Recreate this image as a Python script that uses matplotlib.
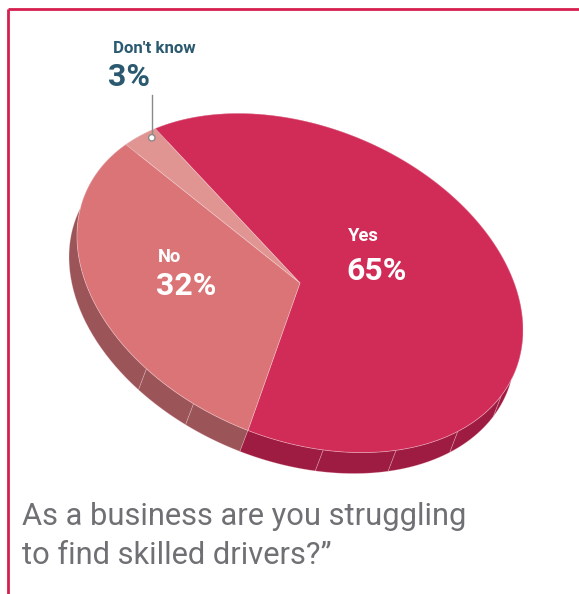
import numpy as np
import matplotlib
matplotlib.use("Agg")
import matplotlib.pyplot as plt
from matplotlib.patches import Polygon, Circle

# Survey answers
labels = ["Yes", "No", "Don't know"]
values = [65, 32, 3]
top_colors = ["#d12b57", "#db7477", "#e09592"]
side_colors = ["#9e1b42", "#9b5457", "#a86a6a"]
question_lines = ["As a business are you struggling", "to find skilled drivers?\u201d"]

W, H = 579, 594
fig = plt.figure(figsize=(W / 100, H / 100), dpi=100)
ax = fig.add_axes([0, 0, 1, 1])
ax.set_xlim(0, W)
ax.set_ylim(H, 0)
ax.axis("off")

# Tilted disc: unit circle mapped through an affine transform
cx, cy = 300.0, 283.0
A = np.array([[223.0, 0.0], [47.0, 162.9]])
depth = np.array([-8.0, 21.0])
start = -130.5


def rim(t_deg, r=1.0):
    t = np.radians(np.atleast_1d(t_deg))
    xy = A @ np.vstack([np.cos(t), np.sin(t)]) * r
    return np.column_stack([cx + xy[0], cy + xy[1]])


bounds = start + 360.0 * np.concatenate([[0], np.cumsum(values)]) / sum(values)

# Wall panel edges for each slice
panel_edges = [
    np.linspace(bounds[0], bounds[1], 13),
    np.array([bounds[1], bounds[1] + 15, bounds[1] + 30, bounds[2]]),
    np.array([bounds[2], bounds[3]]),
]

# Side wall, drawn back to front
walls = []
for i, edges in enumerate(panel_edges):
    for a, b in zip(edges[:-1], edges[1:]):
        ts = np.linspace(a, b, 40)
        upper = rim(ts)
        lower = upper[::-1] + depth
        key = rim((a + b) / 2)[0, 1]
        walls.append((key, np.vstack([upper, lower]), side_colors[i]))
for _, poly, col in sorted(walls, key=lambda w: w[0]):
    ax.add_patch(Polygon(poly, closed=True, facecolor=col,
                         edgecolor=(1, 0.85, 0.88, 0.3), lw=0.6))

# Top face
for i in range(len(values)):
    ts = np.linspace(bounds[i], bounds[i + 1], 200)
    poly = np.vstack([[cx, cy], rim(ts)])
    ax.add_patch(Polygon(poly, closed=True, facecolor=top_colors[i],
                         edgecolor=(1, 0.9, 0.92, 0.35), lw=0.6))

bold = dict(family=["Roboto", "DejaVu Sans"], weight="bold")

# In-slice labels
ax.text(348, 241, labels[0], color="white", fontsize=13.2, ha="left", va="baseline", **bold)
ax.text(346, 280, f"{values[0]}%", color="white", fontsize=23.0, ha="left", va="baseline", **bold)
ax.text(158, 262, labels[1], color="white", fontsize=13.2, ha="left", va="baseline", **bold)
ax.text(156, 295, f"{values[1]}%", color="white", fontsize=23.0, ha="left", va="baseline", **bold)

# Callout for the small slice
teal = "#2b5a70"
anchor = rim(bounds[2] + 0.72 * (bounds[3] - bounds[2]), r=0.965)[0]
ax.plot([anchor[0], anchor[0]], [95, anchor[1]], color="#8a8a8a", lw=1.0, zorder=5)
ax.add_patch(Circle(anchor, 3.2, facecolor="white", edgecolor="#8a8a8a", lw=1.0, zorder=6))
ax.text(113, 53, labels[2], color=teal, fontsize=12.2, ha="left", va="baseline", **bold)
ax.text(108, 86, f"{values[2]}%", color=teal, fontsize=23.0, ha="left", va="baseline", **bold)

# Question caption
for line, base in zip(question_lines, [525, 564]):
    ax.text(22, base, line, color="#6f7074", fontsize=22.2, ha="left", va="baseline",
            family=["Roboto", "DejaVu Sans"])

# Frame lines on top and left
frame = "#d51f4f"
ax.plot([8.3, W], [8.7, 8.7], color=frame, lw=2.0, solid_capstyle="butt")
ax.plot([8.3, 8.3], [8.7, H], color=frame, lw=2.0, solid_capstyle="butt")

fig.savefig("out.png", dpi=100)
